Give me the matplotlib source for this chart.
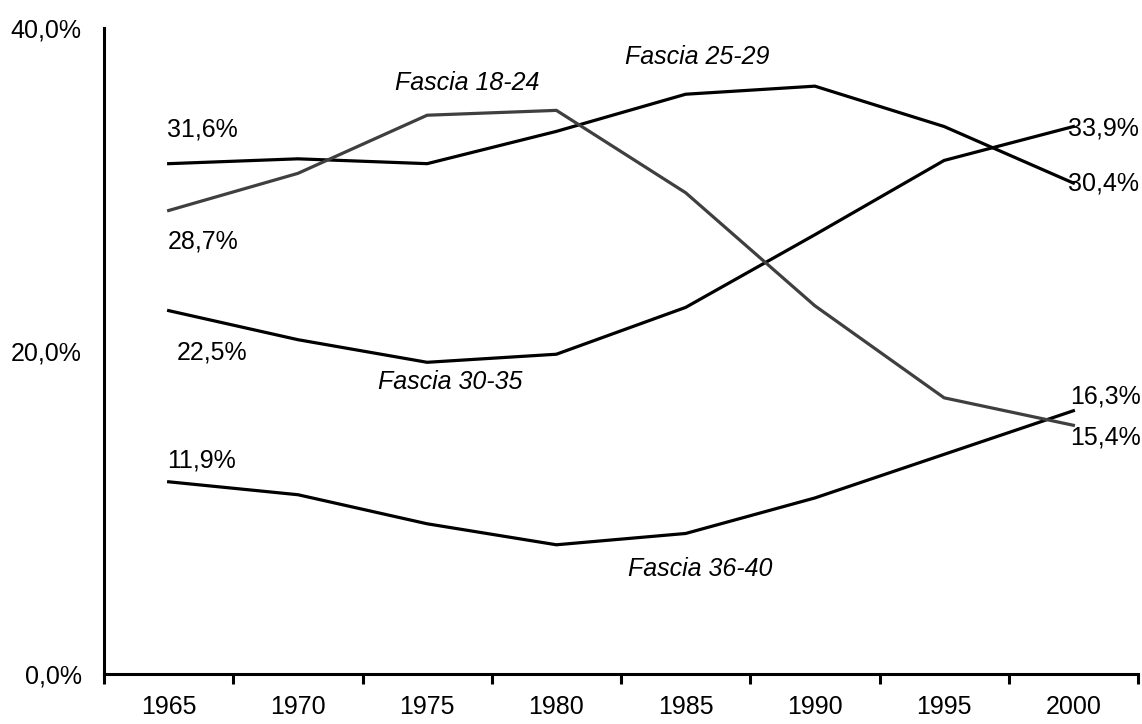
import matplotlib
matplotlib.use("Agg")
import matplotlib.pyplot as plt
from matplotlib.ticker import FixedLocator, NullFormatter

plt.rcParams['font.family'] = ['Liberation Sans', 'DejaVu Sans']

years = ["1965", "1970", "1975", "1980", "1985", "1990", "1995", "2000"]
fascia_18_24 = [28.7, 31.0, 34.6, 34.9, 29.8, 22.8, 17.1, 15.4]
fascia_25_29 = [31.6, 31.9, 31.6, 33.6, 35.9, 36.4, 33.9, 30.4]
fascia_30_35 = [22.5, 20.7, 19.3, 19.8, 22.7, 27.2, 31.8, 33.9]
fascia_36_40 = [11.9, 11.1, 9.3, 8.0, 8.7, 10.9, 13.6, 16.3]
y_ticks = [0, 20, 40]
y_tick_labels = ["0,0%", "20,0%", "40,0%"]

fig = plt.figure(figsize=(11.42, 7.24), dpi=100)
ax = fig.add_axes([0.0911, 0.0691, 0.9054, 0.8922])

x = list(range(len(years)))
lw = 2.3
ax.plot(x, fascia_25_29, color='black', lw=lw, solid_joinstyle='miter')
ax.plot(x, fascia_30_35, color='black', lw=lw, solid_joinstyle='miter')
ax.plot(x, fascia_36_40, color='black', lw=lw, solid_joinstyle='miter')
ax.plot(x, fascia_18_24, color='#3f3f3f', lw=lw, solid_joinstyle='miter')

ax.set_xlim(-0.5, len(years) - 0.5)
ax.set_ylim(0, 40)

for s in ['top', 'right']:
    ax.spines[s].set_visible(False)
for s in ['left', 'bottom']:
    ax.spines[s].set_linewidth(2.2)

fs = 18
ax.set_yticks(y_ticks)
ax.set_yticklabels(y_tick_labels, fontsize=fs)
ax.tick_params(axis='y', length=0, pad=16)

ax.set_xticks(x)
ax.set_xticklabels(years, fontsize=fs)
ax.tick_params(axis='x', which='major', length=0, pad=15)
ax.xaxis.set_minor_locator(FixedLocator([i - 0.5 for i in range(len(years) + 1)]))
ax.xaxis.set_minor_formatter(NullFormatter())
ax.tick_params(axis='x', which='minor', length=7, width=2.2, direction='out')

def fmt(v):
    return f"{v:.1f}%".replace('.', ',')

# start labels
ax.annotate(fmt(fascia_25_29[0]), (0, fascia_25_29[0]), xytext=(-1, 24.5), textcoords='offset points',
            ha='left', va='center', fontsize=fs)
ax.annotate(fmt(fascia_18_24[0]), (0, fascia_18_24[0]), xytext=(-1, -22), textcoords='offset points',
            ha='left', va='center', fontsize=fs)
ax.annotate(fmt(fascia_30_35[0]), (0, fascia_30_35[0]), xytext=(5.5, -30.5), textcoords='offset points',
            ha='left', va='center', fontsize=fs)
ax.annotate(fmt(fascia_36_40[0]), (0, fascia_36_40[0]), xytext=(-1, 15), textcoords='offset points',
            ha='left', va='center', fontsize=fs)
# end labels
n = len(years) - 1
ax.annotate(fmt(fascia_30_35[n]), (n, fascia_30_35[n]), xytext=(-3.6, -1.5), textcoords='offset points',
            ha='left', va='center', fontsize=fs)
ax.annotate(fmt(fascia_25_29[n]), (n, fascia_25_29[n]), xytext=(-3.6, 0), textcoords='offset points',
            ha='left', va='center', fontsize=fs)
ax.annotate(fmt(fascia_36_40[n]), (n, fascia_36_40[n]), xytext=(-2, 10), textcoords='offset points',
            ha='left', va='center', fontsize=fs)
ax.annotate(fmt(fascia_18_24[n]), (n, fascia_18_24[n]), xytext=(-2, -8.6), textcoords='offset points',
            ha='left', va='center', fontsize=fs)

# series names
ax.text(2.31, 36.6, "Fascia 18-24", style='italic', fontsize=fs, ha='center', va='center')
ax.text(4.09, 38.2, "Fascia 25-29", style='italic', fontsize=fs, ha='center', va='center')
ax.text(2.18, 18.1, "Fascia 30-35", style='italic', fontsize=fs, ha='center', va='center')
ax.text(4.11, 6.5, "Fascia 36-40", style='italic', fontsize=fs, ha='center', va='center')

fig.savefig("out.png", dpi=100)
